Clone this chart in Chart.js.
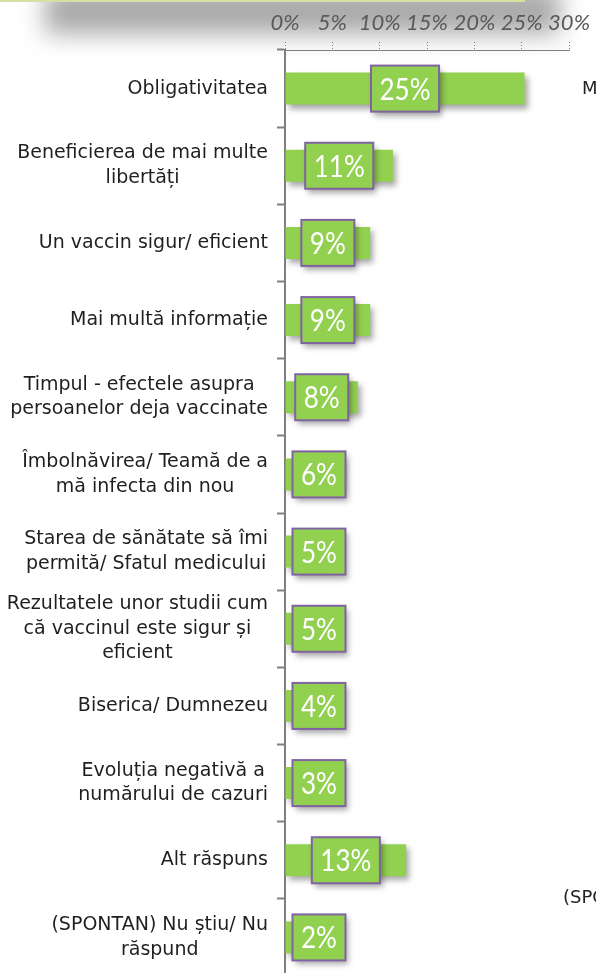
<!DOCTYPE html>
<html>
<head>
<meta charset="utf-8">
<script src="https://cdn.jsdelivr.net/npm/chart.js@4.4.1/dist/chart.umd.min.js"></script>
<style>
  html, body { margin: 0; padding: 0; background: #fff; overflow: hidden; width: 596px; height: 973px; }
  #wrap { position: relative; width: 596px; height: 973px; overflow: hidden; }
  .shade { position: absolute; left: 45px; top: -12px; width: 515px; height: 46px; background: #a9a9a9; filter: blur(12px); }
  .topline { position: absolute; left: 0; top: 0; width: 525px; height: 2px; background: #d6e0a0; }
  canvas { position: absolute; left: 0; top: 0; }
  .side { position: absolute; font-family: 'DejaVu Sans', sans-serif; font-size: 18px; color: #222; white-space: nowrap; }
</style>
</head>
<body>
<div id="wrap">
  <div class="shade"></div>
  <div class="topline"></div>
  <canvas id="chart" width="596" height="980"></canvas>
  <div class="side" style="left:582px; top:77px;">M</div>
  <div class="side" style="left:563px; top:886px;">(SPONTAN)</div>
</div>
<script>
const categories = [
  ['Obligativitatea'],
  ['Beneficierea de mai multe', 'libertăți'],
  ['Un vaccin sigur/ eficient'],
  ['Mai multă informație'],
  ['Timpul - efectele asupra', 'persoanelor deja vaccinate'],
  ['Îmbolnăvirea/ Teamă de a', 'mă infecta din nou'],
  ['Starea de sănătate să îmi', 'permită/ Sfatul medicului'],
  ['Rezultatele unor studii cum', 'că vaccinul este sigur și', 'eficient'],
  ['Biserica/ Dumnezeu'],
  ['Evoluția negativă a', 'numărului de cazuri'],
  ['Alt răspuns'],
  ['(SPONTAN) Nu știu/ Nu', 'răspund']
];
const values = [25.3, 11.4, 9, 9, 7.7, 6, 5, 5, 4, 3, 12.8, 2];
const tickValues = [0, 5, 10, 15, 20, 25, 30];

const GREEN = '#92D050';
const PURPLE = '#8064A2';
const AXIS = '#7f7f7f';

// drop shadow under the bars
const barShadow = {
  id: 'barShadow',
  beforeDatasetsDraw(chart) {
    const c = chart.ctx;
    c.save();
    c.shadowColor = 'rgba(0,0,0,0.35)';
    c.shadowBlur = 6;
    c.shadowOffsetX = 3;
    c.shadowOffsetY = 4;
  },
  afterDatasetsDraw(chart) {
    chart.ctx.restore();
  }
};

// value boxes on the bars
const valueBoxes = {
  id: 'valueBoxes',
  afterDatasetsDraw(chart) {
    const c = chart.ctx;
    const meta = chart.getDatasetMeta(0);
    const sx = 0.84;
    c.save();
    c.font = '31px Lato, "Open Sans", sans-serif';
    meta.data.forEach((bar, i) => {
      const txt = Math.round(values[i]) + '%';
      const tw = c.measureText(txt).width * sx;
      const w = tw + 17;
      const h = 46;
      const base = bar.base;
      let cx = (bar.x + base) / 2;
      cx = Math.max(cx, base + 7 + w / 2);
      const x0 = cx - w / 2, y0 = bar.y - h / 2;
      c.save();
      c.shadowColor = 'rgba(0,0,0,0.35)';
      c.shadowBlur = 6;
      c.shadowOffsetX = 3;
      c.shadowOffsetY = 4;
      c.fillStyle = GREEN;
      c.fillRect(x0, y0, w, h);
      c.restore();
      c.strokeStyle = PURPLE;
      c.lineWidth = 2;
      c.strokeRect(x0, y0, w, h);
      c.save();
      c.translate(cx, bar.y + 1);
      c.scale(sx, 1);
      c.fillStyle = '#fff';
      c.textAlign = 'center';
      c.textBaseline = 'middle';
      c.fillText(txt, 0, 0);
      c.restore();
    });
    c.restore();
  }
};

// category labels: block right-aligned, lines centred inside the block
const catLabels = {
  id: 'catLabels',
  afterDraw(chart) {
    const c = chart.ctx;
    const y = chart.scales.y;
    const right = 268;
    const lh = 24.5;
    c.save();
    c.font = '19px "DejaVu Sans", sans-serif';
    c.fillStyle = '#1f1f1f';
    c.textAlign = 'center';
    c.textBaseline = 'middle';
    categories.forEach((lines, i) => {
      const cy = y.getPixelForValue(i);
      const maxW = Math.max(...lines.map(l => c.measureText(l).width));
      const cx = right - maxW / 2;
      lines.forEach((l, j) => {
        c.fillText(l, cx, cy + (j - (lines.length - 1) / 2) * lh);
      });
    });
    c.restore();
  }
};

new Chart(document.getElementById('chart'), {
  type: 'bar',
  data: {
    labels: categories.map(l => l.join(' ')),
    datasets: [{
      data: values,
      backgroundColor: GREEN,
      borderWidth: 0,
      barPercentage: 0.415,
      categoryPercentage: 1
    }]
  },
  options: {
    indexAxis: 'y',
    responsive: false,
    animation: false,
    devicePixelRatio: 1,
    layout: { padding: { left: 0, right: 26, top: 0, bottom: 4 } },
    scales: {
      x: {
        position: 'top',
        min: 0,
        max: 30,
        afterBuildTicks: scale => { scale.ticks = tickValues.map(v => ({ value: v })); },
        afterFit: scale => { scale.height = 50; },
        ticks: {
          callback: v => v + '%',
          color: '#595959',
          font: { family: 'Lato, "Open Sans", sans-serif', size: 22, style: 'italic' },
          padding: 6,
          maxRotation: 0
        },
        border: { display: true, color: AXIS, width: 1, dash: [1, 2] },
        grid: {
          drawOnChartArea: false,
          drawTicks: true,
          tickLength: 8,
          tickColor: AXIS,
          tickWidth: 1,
          tickBorderDash: [1, 2]
        }
      },
      y: {
        afterFit: scale => { scale.width = 285; },
        ticks: { display: false },
        border: { display: true, color: AXIS, width: 2 },
        grid: {
          offset: true,
          drawOnChartArea: false,
          drawTicks: true,
          tickLength: 8,
          tickColor: AXIS,
          tickWidth: 2
        }
      }
    },
    plugins: {
      legend: { display: false },
      tooltip: { enabled: false }
    }
  },
  plugins: [barShadow, valueBoxes, catLabels]
});
</script>
</body>
</html>
